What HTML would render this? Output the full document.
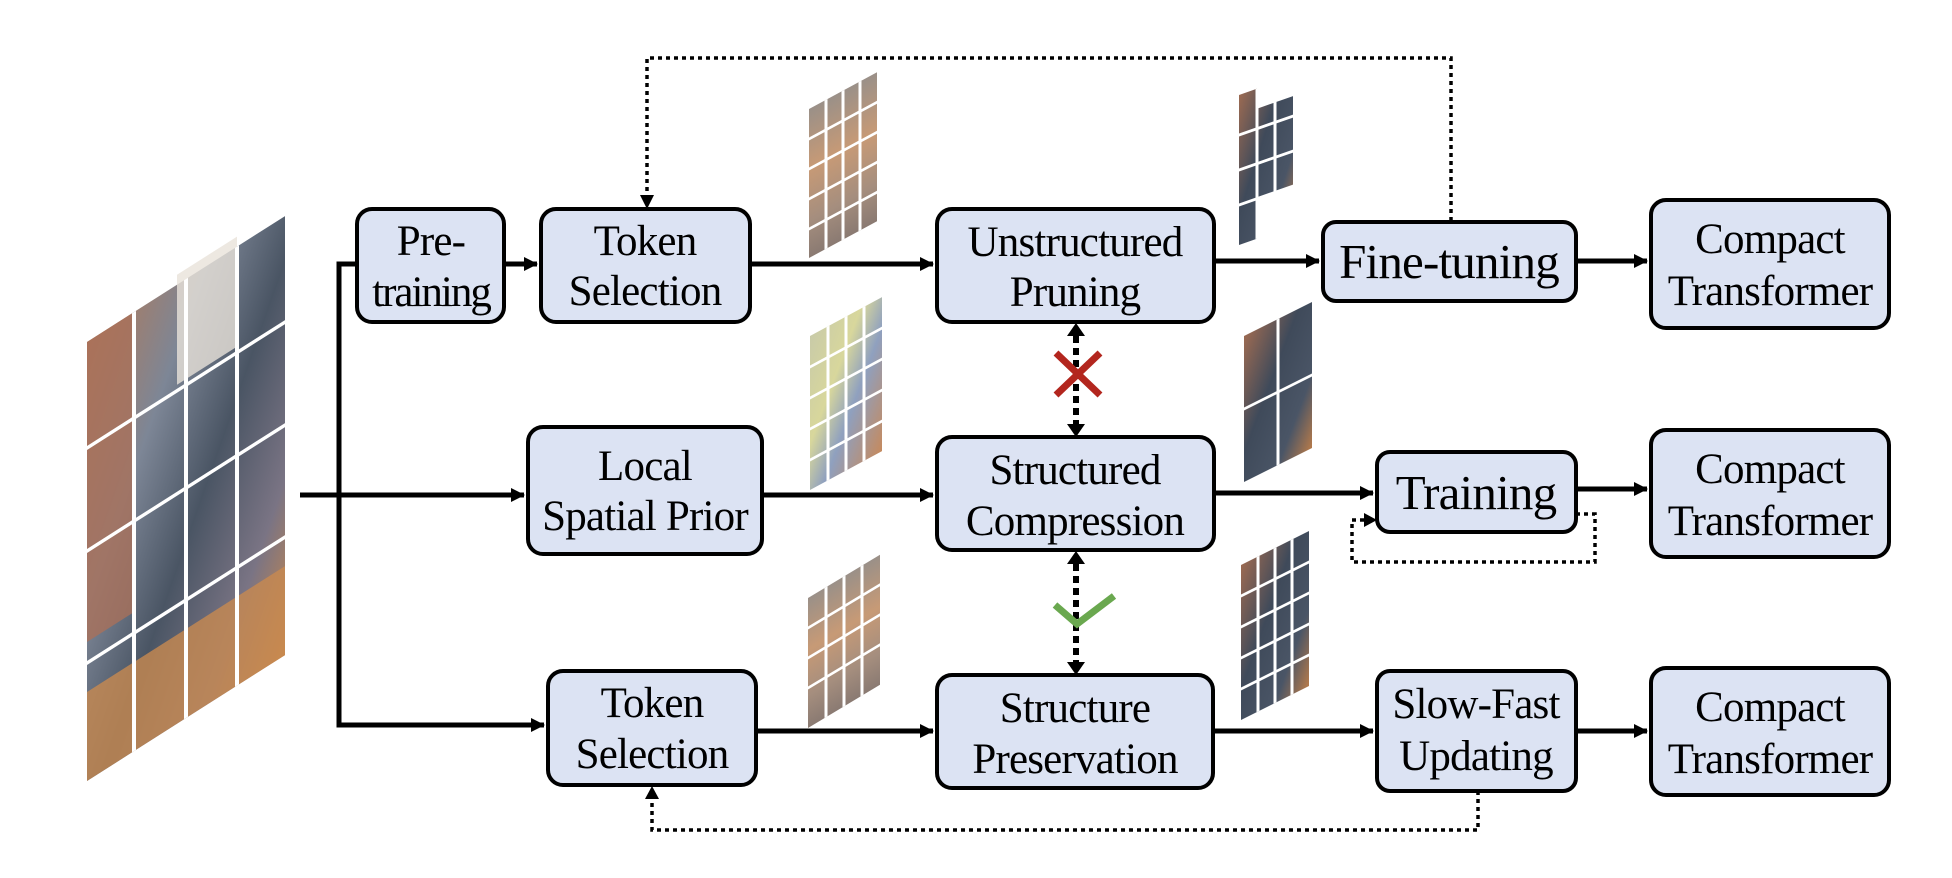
<!DOCTYPE html>
<html><head><meta charset="utf-8"><style>
html,body{margin:0;padding:0;background:#fff}
svg{display:block}
text{font-family:"Liberation Serif",serif;fill:#000}
</style></head><body>
<svg width="1952" height="878" viewBox="0 0 1952 878" xmlns="http://www.w3.org/2000/svg">
<defs>
<marker id="ahs" markerWidth="14" markerHeight="14" refX="13" refY="7" orient="auto" markerUnits="userSpaceOnUse" viewBox="0 0 14 14"><path d="M0,0 L14,7 L0,14z" fill="#000"/></marker>
<linearGradient id="gMain" x1="0" y1="0" x2="1" y2="1">
<stop offset="0" stop-color="#b07a5a"/><stop offset="0.3" stop-color="#7d8696"/><stop offset="0.55" stop-color="#4a5564"/><stop offset="0.8" stop-color="#7a7484"/><stop offset="1" stop-color="#c8874a"/></linearGradient>
<linearGradient id="gBrown" x1="0" y1="0" x2="0" y2="1">
<stop offset="0" stop-color="#9a9088"/><stop offset="0.4" stop-color="#c79a76"/><stop offset="0.75" stop-color="#a58e7e"/><stop offset="1" stop-color="#8a7a72"/></linearGradient>
<linearGradient id="gColor" x1="0" y1="0" x2="1" y2="1">
<stop offset="0" stop-color="#c9cba8"/><stop offset="0.35" stop-color="#d8d79c"/><stop offset="0.6" stop-color="#8fa0bf"/><stop offset="1" stop-color="#c58a5e"/></linearGradient>
<linearGradient id="gDog" x1="0" y1="0" x2="1" y2="1">
<stop offset="0" stop-color="#9b6a52"/><stop offset="0.4" stop-color="#3f4a5a"/><stop offset="0.75" stop-color="#4a5566"/><stop offset="1" stop-color="#b57a4a"/></linearGradient>
</defs>

<!-- main image -->
<g transform="matrix(1,-0.636,0,1,87,342)">
<rect x="0" y="0" width="198" height="439" fill="url(#gMain)"/>
<rect x="0" y="0" width="45" height="300" fill="#a9705a" opacity="0.8"/>
<rect x="90" y="-10" width="60" height="110" fill="#e9e2da" opacity="0.8"/>
<rect x="0" y="350" width="198" height="89" fill="#c88a50" opacity="0.8"/>
<g stroke="#fff" stroke-width="4">
<line x1="47" y1="0" x2="47" y2="439"/><line x1="99" y1="0" x2="99" y2="439"/><line x1="150" y1="0" x2="150" y2="439"/>
<line x1="0" y1="106" x2="198" y2="106"/><line x1="0" y1="209" x2="198" y2="209"/><line x1="0" y1="321" x2="198" y2="321"/>
</g></g>

<!-- thumbnails -->
<g transform="matrix(1,-0.54,0,1,809,109)"><rect width="68" height="149" fill="url(#gBrown)"/><g stroke="#fff" stroke-width="3"><line x1="17" y1="0" x2="17" y2="149"/><line x1="34" y1="0" x2="34" y2="149"/><line x1="51" y1="0" x2="51" y2="149"/><line x1="0" y1="30" x2="68" y2="30"/><line x1="0" y1="60" x2="68" y2="60"/><line x1="0" y1="90" x2="68" y2="90"/><line x1="0" y1="120" x2="68" y2="120"/></g></g>
<g transform="matrix(1,-0.54,0,1,810,336)"><rect width="72" height="154" fill="url(#gColor)"/><g stroke="#fff" stroke-width="3"><line x1="18" y1="0" x2="18" y2="154"/><line x1="36" y1="0" x2="36" y2="154"/><line x1="54" y1="0" x2="54" y2="154"/><line x1="0" y1="31" x2="72" y2="31"/><line x1="0" y1="62" x2="72" y2="62"/><line x1="0" y1="93" x2="72" y2="93"/><line x1="0" y1="124" x2="72" y2="124"/></g></g>
<g transform="matrix(1,-0.6,0,1,808,598)"><rect width="72" height="130" fill="url(#gBrown)"/><g stroke="#fff" stroke-width="3"><line x1="18" y1="0" x2="18" y2="130"/><line x1="36" y1="0" x2="36" y2="130"/><line x1="54" y1="0" x2="54" y2="130"/><line x1="0" y1="30" x2="72" y2="30"/><line x1="0" y1="60" x2="72" y2="60"/><line x1="0" y1="90" x2="72" y2="90"/></g></g>
<g transform="matrix(1,-0.35,0,1,1239,95)"><rect width="54" height="150" fill="url(#gDog)"/><rect x="18" y="-5" width="36" height="25" fill="#fff"/><rect x="18" y="110" width="36" height="45" fill="#fff"/><g stroke="#fff" stroke-width="3"><line x1="18" y1="0" x2="18" y2="150"/><line x1="36" y1="0" x2="36" y2="110"/><line x1="0" y1="40" x2="54" y2="40"/><line x1="0" y1="75" x2="54" y2="75"/><line x1="0" y1="110" x2="54" y2="110"/></g></g>
<g transform="matrix(1,-0.5,0,1,1244,336)"><rect width="68" height="146" fill="url(#gDog)"/><g stroke="#fff" stroke-width="3"><line x1="34" y1="0" x2="34" y2="146"/><line x1="0" y1="73" x2="68" y2="73"/></g></g>
<g transform="matrix(1,-0.5,0,1,1241,565)"><rect width="68" height="155" fill="url(#gDog)"/><g stroke="#fff" stroke-width="3"><line x1="17" y1="0" x2="17" y2="155"/><line x1="34" y1="0" x2="34" y2="155"/><line x1="51" y1="0" x2="51" y2="155"/><line x1="0" y1="31" x2="68" y2="31"/><line x1="0" y1="62" x2="68" y2="62"/><line x1="0" y1="93" x2="68" y2="93"/><line x1="0" y1="124" x2="68" y2="124"/></g></g>

<!-- solid connectors -->
<g stroke="#000" stroke-width="5" fill="none">
<line x1="300" y1="495" x2="524" y2="495" marker-end="url(#ahs)"/>
<polyline points="357,264 339,264 339,725 544,725" marker-end="url(#ahs)"/>
<line x1="504" y1="264" x2="537" y2="264" marker-end="url(#ahs)"/>
<line x1="750" y1="264" x2="933" y2="264" marker-end="url(#ahs)"/>
<line x1="762" y1="495" x2="933" y2="495" marker-end="url(#ahs)"/>
<line x1="756" y1="731" x2="933" y2="731" marker-end="url(#ahs)"/>
<line x1="1214" y1="261" x2="1319" y2="261" marker-end="url(#ahs)"/>
<line x1="1576" y1="261" x2="1647" y2="261" marker-end="url(#ahs)"/>
<line x1="1214" y1="493" x2="1373" y2="493" marker-end="url(#ahs)"/>
<line x1="1576" y1="489" x2="1647" y2="489" marker-end="url(#ahs)"/>
<line x1="1213" y1="731" x2="1373" y2="731" marker-end="url(#ahs)"/>
<line x1="1576" y1="731" x2="1647" y2="731" marker-end="url(#ahs)"/>
</g>

<!-- dotted connectors -->
<g stroke="#000" stroke-width="3.5" fill="none" stroke-dasharray="4,4">
<polyline points="1451,221 1451,58 647,58 647,198"/>
<polyline points="1478,791 1478,830 652,830 652,797"/>
<polyline points="1576,514 1595,514 1595,562 1352,562 1352,520 1366,520"/>
</g>
<path d="M640,195 L654,195 L647,209z" fill="#000"/>
<path d="M645,799 L659,799 L652,786z" fill="#000"/>
<path d="M1364,513 L1377,520 L1364,527z" fill="#000"/>

<!-- vertical double arrows -->
<g stroke="#000" stroke-width="6" stroke-dasharray="7,5" fill="none">
<line x1="1076" y1="336" x2="1076" y2="424"/>
<line x1="1076" y1="564" x2="1076" y2="662"/>
</g>
<g fill="#000">
<path d="M1067,336 L1085,336 L1076,323z"/><path d="M1067,424 L1085,424 L1076,437z"/>
<path d="M1067,564 L1085,564 L1076,551z"/><path d="M1067,662 L1085,662 L1076,675z"/>
</g>
<g stroke="#b3261e" stroke-width="7"><line x1="1056" y1="353" x2="1100" y2="395"/><line x1="1100" y1="353" x2="1056" y2="395"/></g>
<polyline points="1055,605 1077,624 1114,596" stroke="#6aa84f" stroke-width="7" fill="none"/>

<!-- boxes -->
<g fill="#dce3f3" stroke="#000" stroke-width="4">
<rect x="357" y="209" width="147" height="113" rx="15"/>
<rect x="541" y="209" width="209" height="113" rx="15"/>
<rect x="528" y="427" width="234" height="127" rx="15"/>
<rect x="548" y="671" width="208" height="114" rx="15"/>
<rect x="937" y="209" width="277" height="113" rx="15"/>
<rect x="937" y="437" width="277" height="113" rx="15"/>
<rect x="937" y="675" width="276" height="113" rx="15"/>
<rect x="1323" y="222" width="253" height="79" rx="13"/>
<rect x="1377" y="452" width="199" height="80" rx="13"/>
<rect x="1377" y="671" width="199" height="120" rx="13"/>
<rect x="1651" y="200" width="238" height="128" rx="15"/>
<rect x="1651" y="430" width="238" height="127" rx="15"/>
<rect x="1651" y="668" width="238" height="127" rx="15"/>
</g>

<g font-size="43" text-anchor="middle" letter-spacing="-0.8">
<text x="431" y="255">Pre-</text><text x="431" y="306" letter-spacing="-2">training</text>
<text x="645" y="255">Token</text><text x="645" y="305">Selection</text>
<text x="645" y="480">Local</text><text x="645" y="530">Spatial Prior</text>
<text x="652" y="717">Token</text><text x="652" y="768">Selection</text>
<text x="1075" y="256">Unstructured</text><text x="1075" y="306">Pruning</text>
<text x="1075" y="484">Structured</text><text x="1075" y="535">Compression</text>
<text x="1075" y="722">Structure</text><text x="1075" y="773">Preservation</text>
<text x="1476" y="718">Slow-Fast</text><text x="1476" y="770">Updating</text>
<text x="1770" y="253">Compact</text><text x="1770" y="305">Transformer</text>
<text x="1770" y="483">Compact</text><text x="1770" y="535">Transformer</text>
<text x="1770" y="721">Compact</text><text x="1770" y="773">Transformer</text>
</g>
<g font-size="49" text-anchor="middle" letter-spacing="-0.8">
<text x="1449" y="278">Fine-tuning</text>
<text x="1476" y="509">Training</text>
</g>
</svg>
</body></html>
